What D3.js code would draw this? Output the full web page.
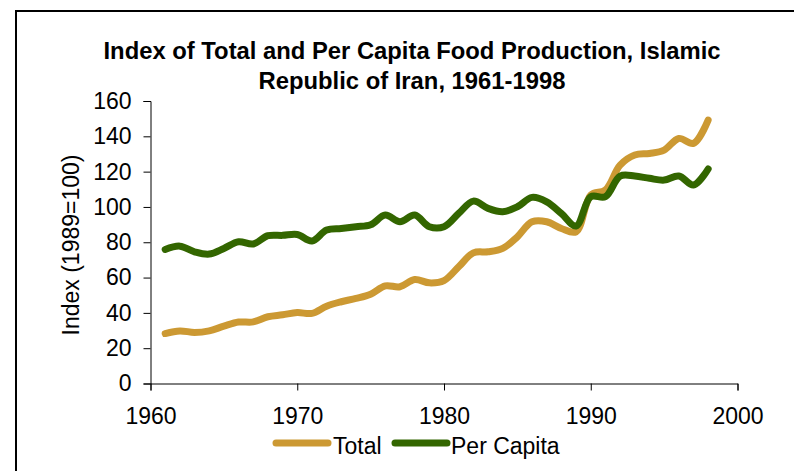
<!DOCTYPE html>
<html>
<head>
<meta charset="utf-8">
<script src="https://cdn.jsdelivr.net/npm/d3@7"></script>
<style>
  body { margin: 0; background: #fff; }
  text { font-family: "Liberation Sans", Arial, sans-serif; fill: #000; }
</style>
</head>
<body>
<div id="chart-area"></div>
<script>
var width = 794;
var height = 471;

// data
var years = [1961, 1962, 1963, 1964, 1965, 1966, 1967, 1968, 1969, 1970,
             1971, 1972, 1973, 1974, 1975, 1976, 1977, 1978, 1979, 1980,
             1981, 1982, 1983, 1984, 1985, 1986, 1987, 1988, 1989, 1990,
             1991, 1992, 1993, 1994, 1995, 1996, 1997, 1998];
var total = [28.3, 29.8, 28.9, 29.8, 32.5, 34.8, 34.9, 37.8, 38.9, 40.2,
             39.7, 43.8, 46.3, 48.2, 50.6, 55.3, 54.8, 58.9, 57.0, 58.3,
             66.1, 74.0, 74.6, 76.5, 83.1, 91.6, 91.6, 87.8, 85.9, 106.7,
             109.6, 123.7, 129.4, 130.3, 132.2, 138.8, 136.0, 149.2];
var perCapita = [75.9, 77.8, 74.6, 73.3, 76.5, 80.3, 79.0, 83.7, 83.9, 84.4,
                 80.7, 86.9, 87.8, 88.8, 89.9, 95.4, 91.6, 95.4, 88.8, 88.8,
                 96.3, 103.3, 99.2, 97.3, 100.1, 105.4, 102.9, 96.3, 89.2, 105.8,
                 105.8, 117.5, 117.5, 116.2, 115.2, 117.5, 112.4, 121.5];
var xTicks = [1960, 1970, 1980, 1990, 2000];
var yTicks = [0, 20, 40, 60, 80, 100, 120, 140, 160];
var seriesNames = ["Total", "Per Capita"];
var seriesColors = ["#CC9933", "#336600"];

var svg = d3.select("#chart-area").append("svg")
    .attr("width", width)
    .attr("height", height);

// frame
svg.append("rect")
    .attr("x", 16)
    .attr("y", 11)
    .attr("width", 800)
    .attr("height", 480)
    .attr("fill", "none")
    .attr("stroke", "#000")
    .attr("stroke-width", 2);

var scaleX = d3.scaleLinear()
    .domain([1960, 2000])
    .range([150.5, 737.5]);

var scaleY = d3.scaleLinear()
    .domain([0, 160])
    .range([383.5, 101]);

// title
svg.append("text")
    .attr("x", 412)
    .attr("y", 59)
    .attr("text-anchor", "middle")
    .style("font-weight", "bold")
    .style("font-size", "23.8px")
    .text("Index of Total and Per Capita Food Production, Islamic");
svg.append("text")
    .attr("x", 412)
    .attr("y", 89)
    .attr("text-anchor", "middle")
    .style("font-weight", "bold")
    .style("font-size", "23.8px")
    .text("Republic of Iran, 1961-1998");

// axes
var x_axis = d3.axisBottom(scaleX)
    .tickValues(xTicks)
    .tickFormat(d3.format("d"))
    .tickSize(7)
    .tickPadding(17);

var y_axis = d3.axisLeft(scaleY)
    .tickValues(yTicks)
    .tickSize(7)
    .tickPadding(12);

var gx = svg.append("g")
    .attr("transform", "translate(0," + scaleY(0) + ")")
    .call(x_axis);

var gy = svg.append("g")
    .attr("transform", "translate(" + scaleX(1960) + ",0)")
    .call(y_axis);

[gx, gy].forEach(function(g) {
    g.select(".domain").attr("stroke", "#000");
    g.selectAll(".tick line").attr("stroke", "#000");
    g.selectAll(".tick text")
        .style("font-family", "'Liberation Sans', Arial, sans-serif")
        .style("font-size", "23px")
        .attr("fill", "#000");
});

// y label
svg.append("text")
    .attr("transform", "translate(79,245) rotate(-90)")
    .attr("text-anchor", "middle")
    .style("font-size", "23px")
    .text("Index (1989=100)");

// lines
var line = d3.line()
    .x(function(d) { return scaleX(d[0]); })
    .y(function(d) { return scaleY(d[1]); })
    .curve(d3.curveCatmullRom.alpha(0.5));

var allSeries = [total, perCapita];
allSeries.forEach(function(vals, i) {
    var pts = years.map(function(y, j) { return [y, vals[j]]; });
    svg.append("path")
        .attr("d", line(pts))
        .attr("fill", "none")
        .attr("stroke", seriesColors[i])
        .attr("stroke-width", 7)
        .attr("stroke-linecap", "round")
        .attr("stroke-linejoin", "round");
});

// legend
var legendX = [276, 395];
var legendTextX = [333, 451];
seriesNames.forEach(function(name, i) {
    svg.append("line")
        .attr("x1", legendX[i])
        .attr("x2", legendX[i] + 52)
        .attr("y1", 443)
        .attr("y2", 443)
        .attr("stroke", seriesColors[i])
        .attr("stroke-width", 7)
        .attr("stroke-linecap", "round");
    svg.append("text")
        .attr("x", legendTextX[i])
        .attr("y", 454)
        .style("font-size", "23px")
        .text(name);
});
</script>
</body>
</html>
